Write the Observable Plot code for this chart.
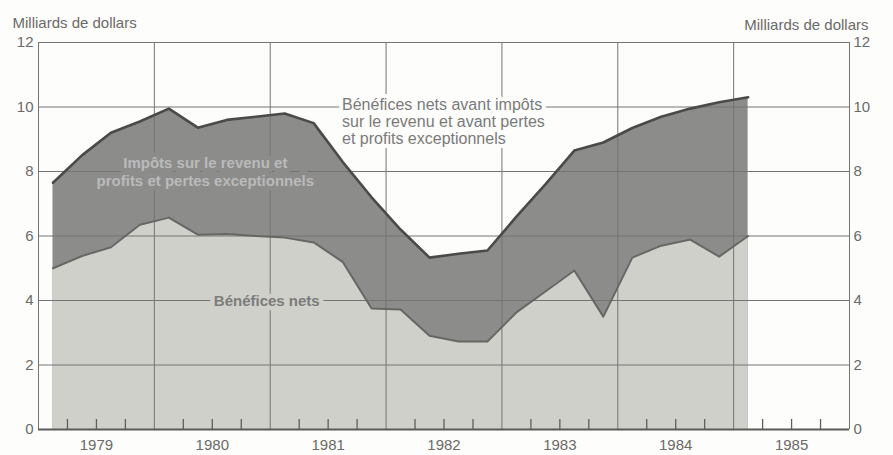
<!DOCTYPE html>
<html>
<head>
<meta charset="utf-8">
<script src="https://cdn.jsdelivr.net/npm/d3@7"></script>
<script src="https://cdn.jsdelivr.net/npm/@observablehq/plot@0.6"></script>
<style>
  html, body { margin: 0; padding: 0; background: #fdfdfb; }
  #chart { width: 893px; height: 455px; }
</style>
</head>
<body>
<div id="chart"></div>
<script>
// Quarterly observations (year-quarter)
const quarters = [
  "1979-1","1979-2","1979-3","1979-4",
  "1980-1","1980-2","1980-3","1980-4",
  "1981-1","1981-2","1981-3","1981-4",
  "1982-1","1982-2","1982-3","1982-4",
  "1983-1","1983-2","1983-3","1983-4",
  "1984-1","1984-2","1984-3","1984-4",
  "1985-1"
];
// Bénéfices nets avant impôts sur le revenu et avant pertes et profits exceptionnels
const profitsBeforeTax = [
  7.65, 8.5, 9.2, 9.55,
  9.95, 9.36, 9.6, 9.7,
  9.8, 9.5, 8.3, 7.2,
  6.2, 5.33, 5.45, 5.55,
  6.6, 7.6, 8.65, 8.9,
  9.35, 9.7, 9.95, 10.15,
  10.3
];
// Bénéfices nets
const netProfits = [
  5.0, 5.38, 5.65, 6.35,
  6.57, 6.04, 6.06, 6.0,
  5.95, 5.8, 5.2, 3.75,
  3.72, 2.91, 2.73, 2.73,
  3.63, 4.28, 4.93, 3.5,
  5.33, 5.7, 5.89, 5.36,
  6.0
];
const years = [1979, 1980, 1981, 1982, 1983, 1984, 1985];
const yTicks = [0, 2, 4, 6, 8, 10, 12];
const unitLabel = "Milliards de dollars";
const labelTotal = "Bénéfices nets avant impôts\nsur le revenu et avant pertes\net profits exceptionnels";
const labelTaxes = "Impôts sur le revenu et\nprofits et pertes exceptionnels";
const labelNet = "Bénéfices nets";

// Table built from the arrays: x at the middle of each quarter
const data = quarters.map((q, i) => {
  const [y, k] = q.split("-").map(Number);
  return { t: y + (k - 0.5) / 4, total: profitsBeforeTax[i], net: netProfits[i] };
});
const yearBounds = years.concat([years[years.length - 1] + 1]);
const yearMids = years.map(y => y + 0.5);
const quarterTicks = years.flatMap(y => [y + 0.25, y + 0.5, y + 0.75]);

const font = "'Liberation Sans', Arial, Helvetica, sans-serif";
const darkFill = "#8c8c8a";
const lightFill = "#cfd0ca";
const bg = "#fdfdfb";

const chart = Plot.plot({
  width: 893,
  height: 455,
  marginTop: 42,
  marginBottom: 26,
  marginLeft: 38,
  marginRight: 44,
  style: { fontFamily: font, fontSize: "15px", color: "#6a6a6a", background: bg },
  x: { domain: [years[0], years[years.length - 1] + 1] },
  y: { domain: [0, 12] },
  marks: [
    Plot.areaY(data, { x: "t", y: "total", fill: darkFill }),
    Plot.areaY(data, { x: "t", y: "net", fill: lightFill }),
    Plot.gridY(yTicks, { stroke: "#747474", strokeOpacity: 1, strokeWidth: 1 }),
    Plot.gridX(yearBounds, { stroke: "#747474", strokeOpacity: 1, strokeWidth: 1 }),
    Plot.ruleX(quarterTicks, { x: d => d, stroke: "#5e5e5e", strokeWidth: 1.3, insetTop: 377 }),
    Plot.ruleY([0], { stroke: "#5a5a5a", strokeWidth: 2 }),
    Plot.lineY(data, { x: "t", y: "net", stroke: "#666664", strokeWidth: 2, strokeLinejoin: "round" }),
    Plot.lineY(data, { x: "t", y: "total", stroke: "#4a4a4a", strokeWidth: 2.6, strokeLinejoin: "round" }),
    Plot.axisY(yTicks, { anchor: "left", tickSize: 0, tickPadding: 5, label: null, fontSize: 15, fill: "#6a6a6a" }),
    Plot.axisY(yTicks, { anchor: "right", tickSize: 0, tickPadding: 4, label: null, fontSize: 15, fill: "#6a6a6a" }),
    Plot.axisX(yearMids, { anchor: "bottom", tickSize: 0, tickPadding: 10, tickFormat: d => String(Math.floor(d)), label: null, fontSize: 15, fill: "#6a6a6a", style: { letterSpacing: "1px" } }),
    Plot.text([labelTotal], {
      x: 1981.62, y: 9.55, text: d => d, textAnchor: "start", lineAnchor: "middle", lineHeight: 1.07,
      fontSize: 16, fill: "#7a7a7a", stroke: bg, strokeWidth: 8, style: { letterSpacing: "0.7px" }
    }),
    Plot.text([labelTaxes], {
      x: 1980.44, y: 8.0, text: d => d, textAnchor: "middle", lineAnchor: "middle", lineHeight: 1.2,
      fontSize: 15, fontWeight: "bold", fill: "#bababa", stroke: darkFill, strokeWidth: 9, style: { letterSpacing: "0.3px" }
    }),
    Plot.text([labelNet], {
      x: 1980.97, y: 3.97, text: d => d, textAnchor: "middle", lineAnchor: "middle",
      fontSize: 15, fontWeight: "bold", fill: "#7c7c7a", stroke: lightFill, strokeWidth: 9, style: { letterSpacing: "0.3px" }
    }),
    Plot.text([unitLabel], { frameAnchor: "top-left", dx: -26, dy: -25, textAnchor: "start", fontSize: 15, fill: "#6a6a6a", style: { letterSpacing: "1.3px" } }),
    Plot.text([unitLabel], { frameAnchor: "top-right", dx: 19, dy: -23, textAnchor: "end", fontSize: 15, fill: "#6a6a6a", style: { letterSpacing: "1.0px" } })
  ]
});
document.getElementById("chart").appendChild(chart);
</script>
</body>
</html>
